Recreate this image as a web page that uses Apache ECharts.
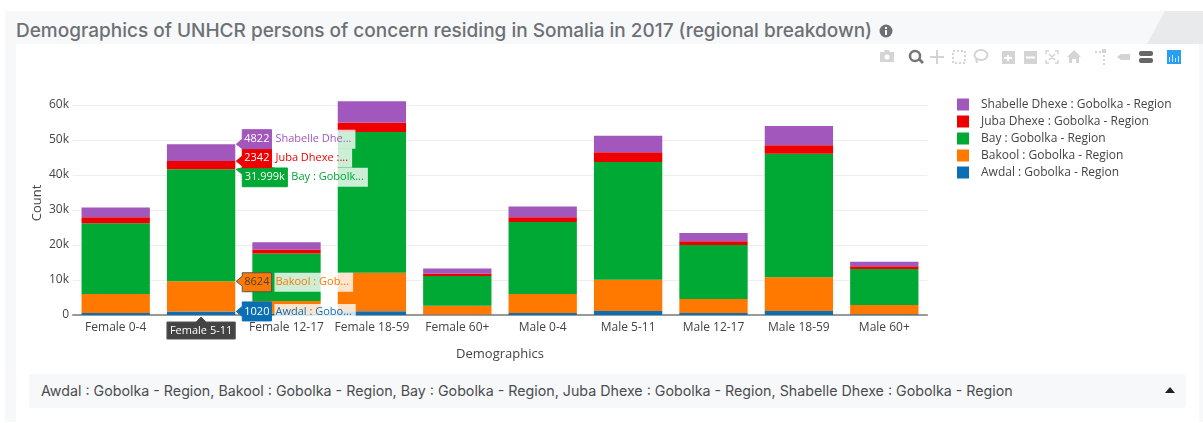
<!DOCTYPE html>
<html>
<head>
<meta charset="utf-8">
<title>Demographics of UNHCR persons of concern</title>
<script src="https://cdn.jsdelivr.net/npm/echarts@6/dist/echarts.min.js"></script>
<style>
  html, body { margin: 0; padding: 0; background: #fff; overflow: hidden; }
  #page { position: relative; width: 1203px; height: 423px; overflow: hidden; }
  .abs { position: absolute; }
  #panel { left: 5px; top: 11px; width: 1198px; height: 411px; background: #f7f8fa; }
  #inner { left: 16px; top: 44px; width: 1183px; height: 378px; background: #fff; }
  #title { left: 16px; top: 19px; font: 500 19px Inter, sans-serif; color: #6d7074; white-space: nowrap; }
  #select { left: 29px; top: 374px; width: 1157px; height: 34px; background: #f7f8fa; border-radius: 3px;
            font: 14.25px Inter, sans-serif; color: #4a4d50; line-height: 34px; text-indent: 12px; white-space: nowrap; }
  #chart { left: 0; top: 0; width: 1203px; height: 423px; }
</style>
</head>
<body>
<div id="page">
  <div class="abs" id="panel"></div>
  <svg class="abs" style="left:0;top:0" width="1203" height="44">
    <polygon points="1165,11 1203,11 1203,44 1147,44" fill="#e9eaec"/>
    <circle cx="886" cy="31" r="6.5" fill="#6d7074"/>
    <rect x="885" y="30" width="2" height="5" fill="#fff"/>
    <rect x="885" y="27" width="2" height="2" fill="#fff"/>
  </svg>
  <div class="abs" id="inner"></div>
  <div class="abs" id="title">Demographics of UNHCR persons of concern residing in Somalia in 2017 (regional breakdown)</div>
  <div class="abs" id="select">Awdal : Gobolka - Region, Bakool : Gobolka - Region, Bay : Gobolka - Region, Juba Dhexe : Gobolka - Region, Shabelle Dhexe : Gobolka - Region</div>
  <svg class="abs" style="left:0;top:0" width="1203" height="423">
    <polygon points="1165,393 1175,393 1170,387" fill="#222"/>
    <!-- modebar -->
    <g fill="#d4d4d4" stroke="none">
      <path d="M880 52h4l1-2h4l1 2h4v10h-14z"/><circle cx="887" cy="57" r="2.5" fill="#fff"/>
      <g fill="none" stroke="#d4d4d4" stroke-width="2">
        <path d="M937 50v14M930 57h14"/>
        <rect x="953" y="51" width="12" height="12" stroke-dasharray="2 2"/>
        <ellipse cx="981" cy="55" rx="6.5" ry="5"/><path d="M976 58l1 5"/>
        <path d="M1046 54v-3h3M1058 54v-3h-3M1046 60v3h3M1058 60v3h-3M1049 54l6 6M1055 54l-6 6" stroke-width="1.5"/>
      </g>
      <rect x="1002" y="51" width="13" height="13"/>
      <path d="M1007 57h-3v2h3v2h2v-2h3v-2h-3v-2h-2z" fill="#fff"/>
      <rect x="1024" y="51" width="13" height="13"/>
      <rect x="1026" y="56.5" width="9" height="2" fill="#fff"/>
      <path d="M1074 50l7 7h-2v6h-3v-4h-4v4h-3v-6h-2z"/>
      <path d="M1095 51h2v2h-2zM1099 51h2v2h-2zM1102 49h4v4h-4zM1103 55h2v2h-2zM1103 59h2v2h-2zM1103 63h2v2h-2z"/>
      <path d="M1117 57l4-3h9v6h-9z"/>
    </g>
    <g fill="#777">
      <circle cx="915" cy="56" r="5" fill="none" stroke="#777" stroke-width="2.5"/>
      <path d="M918 60l2-2 4 4-2 2z"/>
      <rect x="1139" y="51" width="14" height="5" rx="2" fill="#666"/>
      <rect x="1139" y="58" width="14" height="5" rx="2" fill="#666"/>
    </g>
    <rect x="1167" y="50" width="14" height="14" fill="#2a9df4"/>
    <path d="M1169 62v-5h1v5zM1172 62v-7h1v7zM1175 62v-4h1v4zM1178 62v-6h1v6z" fill="#cfe9ff"/>
  </svg>
  <div class="abs" id="chart"></div>
</div>

<script>
var categories = ['Female 0-4', 'Female 5-11', 'Female 12-17', 'Female 18-59', 'Female 60+', 'Male 0-4', 'Male 5-11', 'Male 12-17', 'Male 18-59', 'Male 60+'];

var awdal    = [550,  1020,  450,   1100,  120,  570,   1140,  570,   1140,  200];
var bakool   = [5450, 8624,  3550,  11000, 2550, 5430,  8960,  4000,  9620,  2660];
var bay      = [20200, 31999, 13600, 40200, 8470, 20600, 33600, 15430, 35340, 10280];
var jubaDhexe = [1700, 2342,  1100,  2700,  660,  1300,  2800,  1050,  2400,  760];
var shabelle = [2850, 4822,  2100,  6100,  1500, 3100,  4700,  2350,  5500,  1300];

var seriesNames = ['Awdal : Gobolka - Region', 'Bakool : Gobolka - Region', 'Bay : Gobolka - Region', 'Juba Dhexe : Gobolka - Region', 'Shabelle Dhexe : Gobolka - Region'];
var seriesValues = [awdal, bakool, bay, jubaDhexe, shabelle];
var colors = ['#0a6fb5', '#ff7800', '#00a834', '#ee0000', '#a157bb'];

// the hover state shown in the picture
var hoverCategory = 1;
var hoverValueText = ['1020', '8624', '31.999k', '2342', '4822'];
var hoverNameText = ['Awdal : Gobo...', 'Bakool : Gob...', 'Bay : Gobolk...', 'Juba Dhexe :...', 'Shabelle Dhe...'];

var font = '"Open Sans", sans-serif';
var labelNudge = [0, 1, 8, -3, -5];

var series = seriesNames.map(function (name, i) {
  return {
    name: name,
    type: 'bar',
    stack: 'total',
    barCategoryGap: '20%',
    data: seriesValues[i],
    itemStyle: { color: colors[i] }
  };
});

// running top of each segment for the hovered bar
var hoverRows = [];
var running = 0;
seriesValues.forEach(function (values, i) {
  running += values[hoverCategory];
  hoverRows.push([hoverCategory, running, i]);
});

function drawHover(params, api) {
  var i = api.value(2);
  var p = api.coord([api.value(0), api.value(1)]);
  var halfBar = api.size([1, 0])[0] * 0.4;
  var tipX = p[0] + halfBar + 1;
  var tipY = p[1];
  var cy = tipY + labelNudge[i];
  var left = tipX + 6;
  var width = hoverValueText[i].length * 5.3 + 8;
  var top = cy - 9.5;
  var bottom = cy + 9.5;
  var dark = i === 1;
  return {
    type: 'group',
    children: [
      {
        type: 'polygon',
        shape: {
          points: [
            [tipX, tipY],
            [left, Math.max(tipY - 5, top)],
            [left, top],
            [left + width, top],
            [left + width, bottom],
            [left, bottom],
            [left, Math.min(tipY + 5, bottom)]
          ]
        },
        style: { fill: colors[i], stroke: dark ? '#555' : colors[i], lineWidth: 1 }
      },
      {
        type: 'text',
        style: {
          text: hoverValueText[i], x: left + width / 2, y: cy, align: 'center', verticalAlign: 'middle',
          fill: dark ? '#444' : '#fff', font: '11px ' + font
        }
      },
      {
        type: 'text',
        style: {
          text: hoverNameText[i], x: left + width + 3, y: cy, align: 'left', verticalAlign: 'middle',
          fill: colors[i], font: '11px ' + font,
          backgroundColor: 'rgba(255,255,255,0.8)', padding: [4, 4, i === 0 ? 0 : 4, 1]
        }
      }
    ]
  };
}

function drawHoverAxis(params, api) {
  var p = api.coord([api.value(0), 0]);
  var w = api.size([1, 0])[0] * 0.8;
  var boxTop = p[1] + 7;
  return {
    type: 'group',
    children: [
      {
        type: 'polygon',
        shape: { points: [[p[0], p[1] + 2], [p[0] + 5, boxTop], [p[0] + w / 2, boxTop], [p[0] + w / 2, boxTop + 17], [p[0] - w / 2, boxTop + 17], [p[0] - w / 2, boxTop], [p[0] - 5, boxTop]] },
        style: { fill: '#444', stroke: '#555', lineWidth: 1 }
      },
      {
        type: 'text',
        style: {
          text: categories[api.value(0)], x: p[0], y: boxTop + 8.5, align: 'center', verticalAlign: 'middle',
          fill: '#fff', font: '11px ' + font
        }
      }
    ]
  };
}

series.push({ type: 'custom', renderItem: drawHover, data: hoverRows, encode: { x: 0, y: 1 }, z: 10, silent: true });
series.push({ type: 'custom', renderItem: drawHoverAxis, data: [[hoverCategory, 0]], encode: { x: 0, y: 1 }, z: 10, silent: true });

var myChart = echarts.init(document.getElementById('chart'));

var option = {
  animation: false,
  textStyle: { fontFamily: font },
  grid: { left: 73, right: 276, top: 91, bottom: 108 },
  legend: {
    orient: 'vertical',
    left: 957,
    top: 96,
    padding: 0,
    itemWidth: 12,
    itemHeight: 12,
    itemGap: 0,
    icon: 'rect',
    data: seriesNames.slice().reverse(),
    textStyle: { fontFamily: font, fontSize: 12, color: '#444', lineHeight: 17, padding: [0, 0, 0, 7] }
  },
  xAxis: {
    type: 'category',
    data: categories,
    name: 'Demographics',
    nameLocation: 'middle',
    nameGap: 33,
    nameTextStyle: { fontFamily: font, fontSize: 13, color: '#444' },
    axisTick: { show: false },
    axisLine: { lineStyle: { color: '#999', width: 2 } },
    axisLabel: {
      interval: 0,
      margin: 7,
      fontFamily: font,
      fontSize: 12,
      color: '#444',
      formatter: function (value, index) { return index === hoverCategory ? '' : value; }
    }
  },
  yAxis: {
    type: 'value',
    min: 0,
    max: 64000,
    interval: 10000,
    name: 'Count',
    nameLocation: 'middle',
    nameGap: 29,
    nameMoveOverlap: false,
    nameTextStyle: { fontFamily: font, fontSize: 13, color: '#444' },
    axisLine: { show: false },
    axisTick: { show: false },
    splitLine: { showMaxLine: false, lineStyle: { color: '#eee', width: 1 } },
    axisLabel: {
      margin: 4,
      fontFamily: font,
      fontSize: 12,
      color: '#444',
      showMaxLabel: false,
      formatter: function (v) { return v === 0 ? '0' : v / 1000 + 'k'; }
    }
  },
  series: series
};

myChart.setOption(option);
</script>
</body>
</html>
